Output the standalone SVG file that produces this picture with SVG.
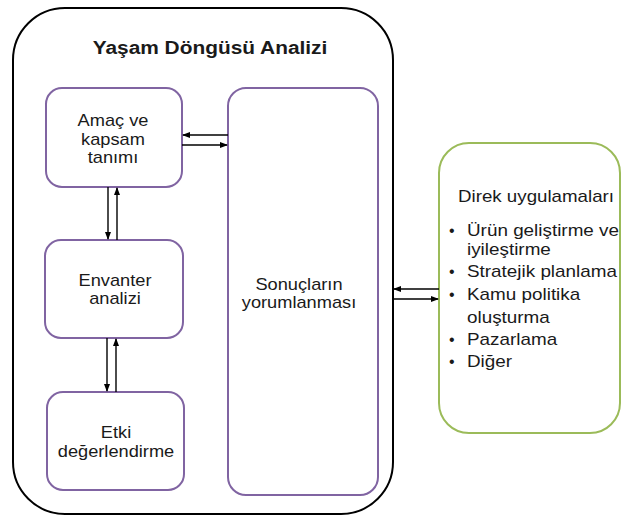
<svg xmlns="http://www.w3.org/2000/svg" width="622" height="522" viewBox="0 0 622 522">
<defs>
<marker id="ah" markerWidth="8" markerHeight="8" refX="7" refY="4" orient="auto" markerUnits="userSpaceOnUse">
<path d="M0,1 L8,4 L0,7 Z" fill="#000"/>
</marker>
<style>
.t{font-family:"Liberation Sans",Arial,sans-serif;font-size:16px;fill:#1a1a1a}
.b{font-weight:bold;font-size:18px}
.p{fill:#fff;stroke:#8064A2;stroke-width:2}
.c{stroke:#000;stroke-width:1.4;fill:none;marker-end:url(#ah)}
</style>
</defs>
<rect width="622" height="522" fill="#fff"/>
<g id="outer">
<rect x="13" y="8" width="380" height="506" rx="52" fill="#fff" stroke="#000" stroke-width="2"/>
<text class="t b" transform="translate(210,54) scale(1.16,1)" text-anchor="middle">Yaşam Döngüsü Analizi</text>
</g>
<g id="amac">
<rect class="p" x="46" y="88" width="136" height="99" rx="16"/>
<text class="t" transform="translate(113,126) scale(1.14,1)" text-anchor="middle"><tspan x="0" y="0">Amaç ve</tspan><tspan x="0" y="19">kapsam</tspan><tspan x="0" y="37">tanımı</tspan></text>
</g>
<g id="envanter">
<rect class="p" x="45" y="240" width="138" height="98" rx="16"/>
<text class="t" transform="translate(115,286) scale(1.14,1)" text-anchor="middle"><tspan x="0" y="0">Envanter</tspan><tspan x="0" y="18">analizi</tspan></text>
</g>
<g id="etki">
<rect class="p" x="47" y="392" width="137" height="98" rx="16"/>
<text class="t" transform="translate(116,438) scale(1.14,1)" text-anchor="middle"><tspan x="0" y="0">Etki</tspan><tspan x="0" y="19">değerlendirme</tspan></text>
</g>
<g id="sonuc">
<rect class="p" x="228" y="88" width="150" height="407" rx="18"/>
<text class="t" transform="translate(299,290) scale(1.14,1)" text-anchor="middle"><tspan x="0" y="0">Sonuçların</tspan><tspan x="0" y="18">yorumlanması</tspan></text>
</g>
<g id="direk">
<rect x="439" y="143" width="181" height="290" rx="30" fill="#fff" stroke="#9BBB59" stroke-width="2"/>
<text class="t" transform="translate(458,202) scale(1.17,1)">Direk uygulamaları</text>
<g class="t">
<text x="449" y="236">•</text><text transform="translate(467,236) scale(1.18,1)">Ürün geliştirme ve</text>
<text transform="translate(467,255) scale(1.18,1)">iyileştirme</text>
<text x="449" y="277">•</text><text transform="translate(467,277) scale(1.18,1)">Stratejik planlama</text>
<text x="449" y="300">•</text><text transform="translate(467,300) scale(1.18,1)">Kamu politika</text>
<text transform="translate(467,323) scale(1.18,1)">oluşturma</text>
<text x="449" y="345">•</text><text transform="translate(467,345) scale(1.18,1)">Pazarlama</text>
<text x="449" y="367">•</text><text transform="translate(467,367) scale(1.18,1)">Diğer</text>
</g>
</g>
<g id="connectors">
<line class="c" x1="228" y1="135" x2="183" y2="135"/>
<line class="c" x1="182" y1="145" x2="227" y2="145"/>
<line class="c" x1="108" y1="187" x2="108" y2="239"/>
<line class="c" x1="117" y1="240" x2="117" y2="188"/>
<line class="c" x1="107" y1="338" x2="107" y2="391"/>
<line class="c" x1="116" y1="392" x2="116" y2="339"/>
<line class="c" x1="439" y1="289" x2="394" y2="289"/>
<line class="c" x1="393" y1="299" x2="438" y2="299"/>
</g>
</svg>
